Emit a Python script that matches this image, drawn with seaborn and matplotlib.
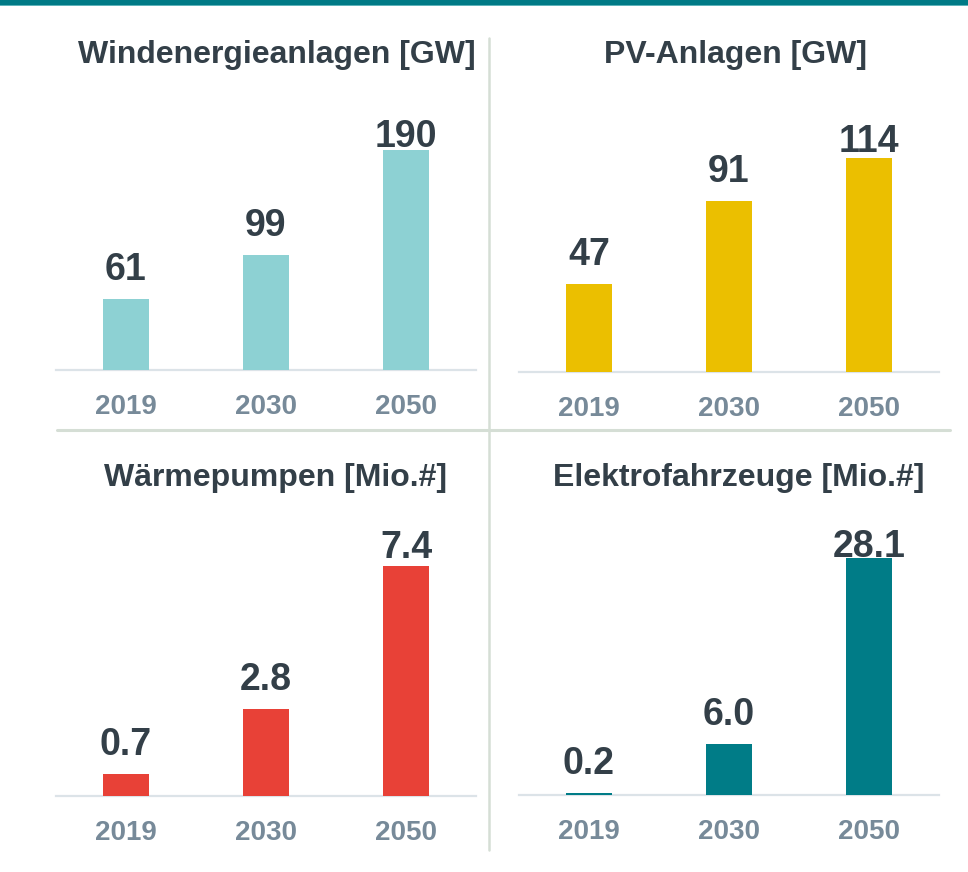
"""Four small bar panels: Ausbau Wind, PV, Wärmepumpen, E-Autos 2019/2030/2050."""

import matplotlib.pyplot as plt
import seaborn as sns
from matplotlib.lines import Line2D
from matplotlib.patches import Rectangle

YEARS = ["2019", "2030", "2050"]

WIND_GW = [61, 99, 190]
PV_GW = [47, 91, 114]
HEAT_PUMPS_MIO = [0.7, 2.8, 7.4]
EV_MIO = [0.2, 6.0, 28.1]

TITLES = [
    "Windenergieanlagen [GW]",
    "PV-Anlagen [GW]",
    "Wärmepumpen [Mio.#]",
    "Elektrofahrzeuge [Mio.#]",
]
LABELS = [
    ["61", "99", "190"],
    ["47", "91", "114"],
    ["0.7", "2.8", "7.4"],
    ["0.2", "6.0", "28.1"],
]
COLORS = ["#8DD1D3", "#EBBF00", "#E84137", "#007C87"]

W, H = 968, 872
TEXT = "#333F48"
TICK = "#778A99"
BASE = "#DCE3E8"
DIVIDER = "#D5DED5"

# (left px, baseline px, ylim, title centre x, title y)
PANELS = [
    (56, 370, 216, 277, 55),
    (519, 372, 133.2, 736, 55),
    (56, 796, 8.04, 276, 478),
    (519, 795, 29.6, 739, 478),
]
AX_W, AX_H = 420, 250
LABEL_CAP = [233, 230, 248, 248]


def main() -> None:
    sns.set_theme(style="white")
    plt.rcParams["font.family"] = ["Liberation Sans", "DejaVu Sans"]

    fig = plt.figure(figsize=(W / 100, H / 100), dpi=100)

    series = [WIND_GW, PV_GW, HEAT_PUMPS_MIO, EV_MIO]
    for k, (values, (left, base, ylim, tx, ty)) in enumerate(zip(series, PANELS)):
        ax = fig.add_axes([left / W, 1 - base / H, AX_W / W, AX_H / H])
        sns.barplot(x=YEARS, y=values, ax=ax, color=COLORS[k], width=0.33,
                    saturation=1, edgecolor="none", zorder=3)
        ax.set_xlim(-0.5, 2.5)
        ax.set_ylim(0, ylim)
        ax.set_xlabel("")
        ax.set_ylabel("")
        ax.set_yticks([])
        for side in ("top", "left", "right"):
            ax.spines[side].set_visible(False)
        ax.spines["bottom"].set_color(BASE)
        ax.spines["bottom"].set_linewidth(1.6)
        ax.tick_params(axis="x", length=0, pad=17.5, labelsize=20, labelcolor=TICK)
        for t in ax.get_xticklabels():
            t.set_fontweight("bold")

        for i, v in enumerate(values):
            bar_px = v / ylim * AX_H
            off_px = min(29, LABEL_CAP[k] - bar_px)
            ax.annotate(LABELS[k][i], xy=(i, v), xytext=(0, off_px * 0.72),
                        textcoords="offset points", ha="center", va="center",
                        fontsize=27, fontweight="bold", color=TEXT,
                        annotation_clip=False)

        fig.text(tx / W, 1 - ty / H, TITLES[k], ha="center", va="center",
                 fontsize=23, fontweight="bold", color=TEXT)

    # panel dividers
    fig.add_artist(Line2D([57 / W, 950 / W], [1 - 430 / H] * 2,
                          color=DIVIDER, lw=2.2))
    fig.add_artist(Line2D([489 / W] * 2, [1 - 38 / H, 1 - 850 / H],
                          color=DIVIDER, lw=1.8))

    # teal header strip
    fig.add_artist(Rectangle((0, 1 - 5 / H), 1, 5 / H, transform=fig.transFigure,
                             color="#007A86", lw=0))
    fig.add_artist(Rectangle((0, 1 - 6 / H), 1, 1 / H, transform=fig.transFigure,
                             color="#5FB3BA", lw=0))

    fig.savefig("out.png", dpi=100)
    plt.close(fig)


if __name__ == "__main__":
    main()
